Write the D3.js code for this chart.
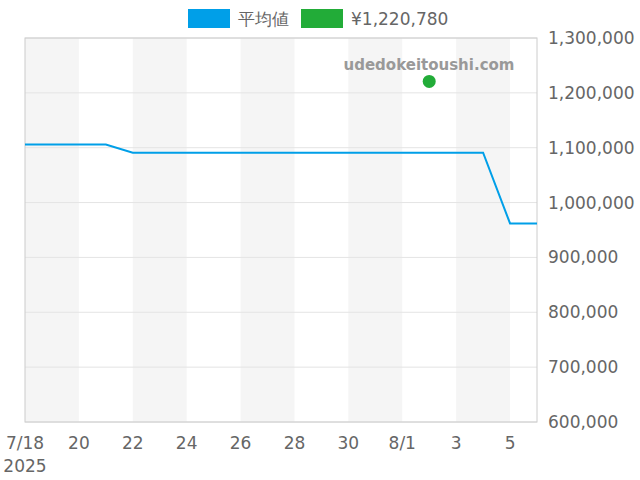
<!DOCTYPE html>
<html><head><meta charset="utf-8">
<script src="https://cdn.jsdelivr.net/npm/d3@7"></script>
<style>body{margin:0;background:#fff;font-family:"DejaVu Sans",sans-serif}</style>
</head><body><svg id="c" width="640" height="480"></svg>
<script>
// data
const lineDates = ["2025-07-18","2025-07-21","2025-07-22","2025-08-04","2025-08-05","2025-08-06"];
const lineValues = [1106000, 1106000, 1091000, 1091000, 962000, 962000];
const dotDate = "2025-08-02";
const dotValue = 1220780;
const xTicks = ["2025-07-18","2025-07-20","2025-07-22","2025-07-24","2025-07-26","2025-07-28","2025-07-30","2025-08-01","2025-08-03","2025-08-05"];
const xTickLabels = ["7/18","20","22","24","26","28","30","8/1","3","5"];
const yTicks = [600000,700000,800000,900000,1000000,1100000,1200000,1300000];
const legendLabels = ["平均値","¥1,220,780"];
const legendColors = ["#009fe8","#22ac38"];

const parse = d3.timeParse("%Y-%m-%d");
const svg = d3.select("#c");
const L = 25, R = 537, T = 38, B = 422;
const x = d3.scaleTime().domain([parse("2025-07-18"), parse("2025-08-06")]).range([L, R]);
const y = d3.scaleLinear().domain([600000, 1300000]).range([B, T]);

// shaded bands
xTicks.forEach((d, i) => {
  if (i % 2) return;
  const a = parse(d), b = d3.timeDay.offset(a, 2);
  svg.append("rect").attr("x", x(a)).attr("y", T)
    .attr("width", Math.min(x(b), R) - x(a)).attr("height", B - T).attr("fill", "#f5f5f5");
});
// grid
svg.append("g").selectAll("line").data(yTicks).join("line")
  .attr("x1", L).attr("x2", R).attr("y1", d => y(d)).attr("y2", d => y(d))
  .attr("stroke", "#e4e4e4");
svg.append("rect").attr("x", L).attr("y", T).attr("width", R - L).attr("height", B - T)
  .attr("fill", "none").attr("stroke", "#ccc");

// y labels
const fmt = d3.format(",");
svg.append("g").selectAll("text").data(yTicks).join("text")
  .attr("x", 548).attr("y", d => y(d) + 6).attr("fill", "#666").attr("font-size", 17)
  .text(d => fmt(d));
// x labels
svg.append("g").selectAll("text").data(xTicks).join("text")
  .attr("x", d => x(parse(d))).attr("y", 449).attr("text-anchor", "middle")
  .attr("fill", "#666").attr("font-size", 17).text((d, i) => xTickLabels[i]);
svg.append("text").attr("x", 25).attr("y", 472).attr("text-anchor", "middle")
  .attr("fill", "#666").attr("font-size", 17).text("2025");

// watermark
svg.append("text").attr("x", 429).attr("y", 70).attr("text-anchor", "middle")
  .attr("fill", "#999").attr("font-size", 15).attr("font-weight", "bold").text("udedokeitoushi.com");

// line
const pts = lineDates.map((d, i) => [x(parse(d)), y(lineValues[i])]);
svg.append("path").attr("d", d3.line()(pts)).attr("fill", "none")
  .attr("stroke", legendColors[0]).attr("stroke-width", 2);
svg.append("circle").attr("cx", x(parse(dotDate))).attr("cy", y(dotValue)).attr("r", 6.5)
  .attr("fill", legendColors[1]);

// legend
const lx = [188, 301];
legendLabels.forEach((t, i) => {
  svg.append("rect").attr("x", lx[i]).attr("y", 9).attr("width", 42).attr("height", 19).attr("fill", legendColors[i]);
  svg.append("text").attr("x", lx[i] + 50).attr("y", 25).attr("fill", "#666").attr("font-size", 17).text(t);
});
</script></body></html>
